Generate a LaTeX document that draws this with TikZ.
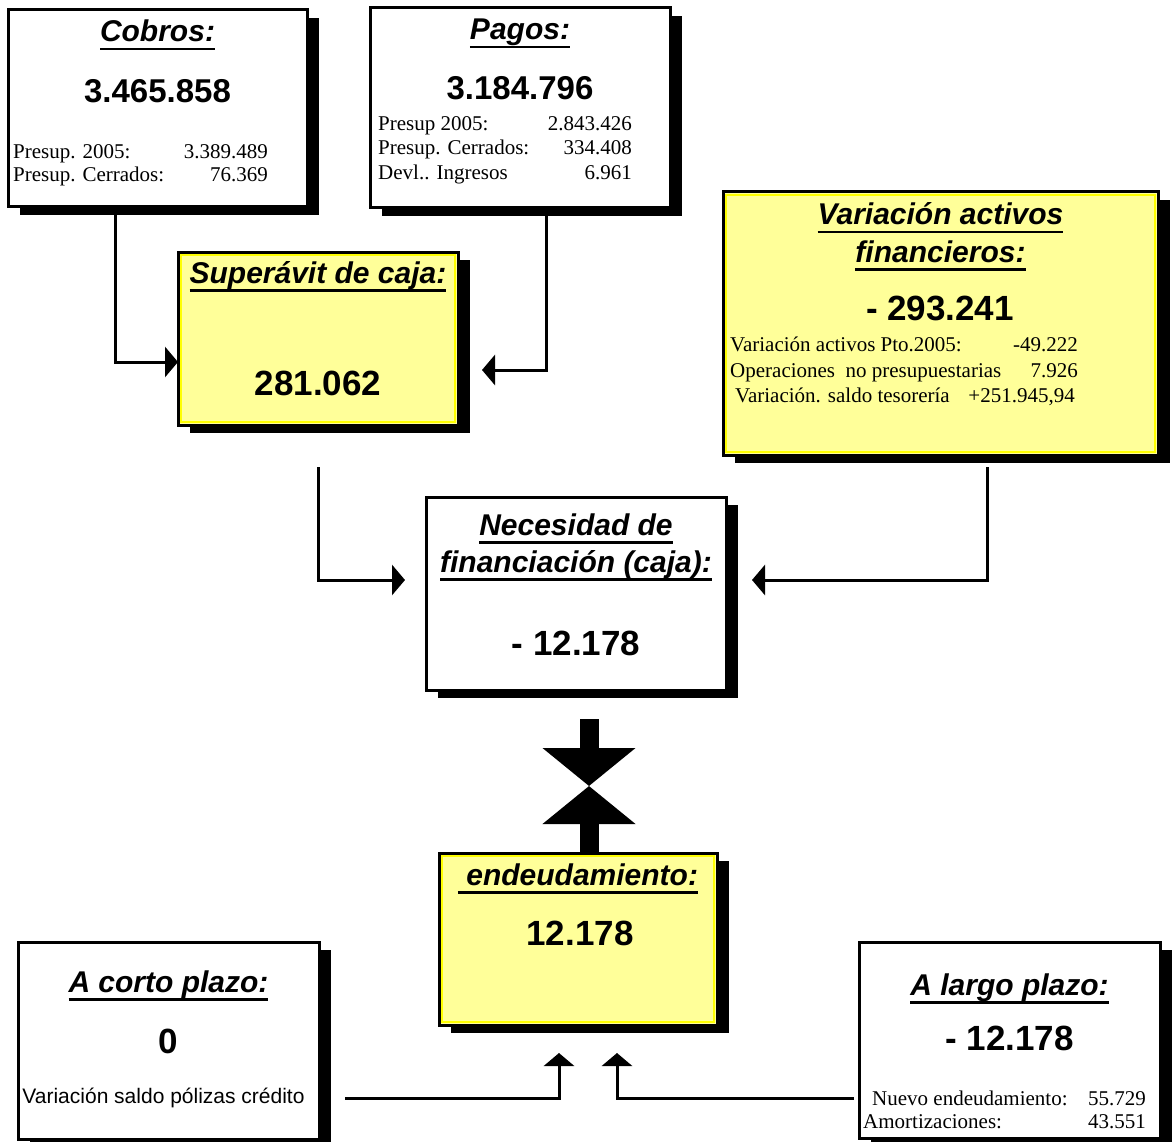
\documentclass[tikz,border=0pt]{standalone}
\usepackage{fontspec}
\setmainfont{Liberation Serif}
\newfontfamily\arial{Liberation Sans}
\usetikzlibrary{arrows.meta,shadows}
\definecolor{yfill}{HTML}{FFFF99}
\definecolor{ybright}{HTML}{FFFF00}
\newcommand\tul[1]{\leavevmode\setbox0=\hbox{#1}\rlap{\rule[-8.5pt]{\wd0}{2.5pt}}\box0}
\newcommand\ttl{\arial\bfseries\itshape\fontsize{30pt}{37pt}\selectfont}
\newcommand\bignum{\arial\bfseries\fontsize{35pt}{35pt}\selectfont}
\newcommand\topnum{\arial\bfseries\fontsize{33pt}{33pt}\selectfont}
\newcommand\sm{\fontsize{21pt}{23pt}\selectfont}
\tikzset{
  box/.style={draw=black, line width=3pt, fill=white, inner sep=0pt, outer sep=0pt,
    drop shadow={shadow xshift=12pt, shadow yshift=-8pt, fill=black, opacity=1}},
  ybox/.style={box, fill=yfill},
  yline/.style={draw=ybright, line width=1.5pt},
  txt/.style={inner sep=0pt, anchor=base},
  txl/.style={inner sep=0pt, anchor=base west},
  txr/.style={inner sep=0pt, anchor=base east},
  conn/.style={line width=3pt, -{Triangle[length=13pt,width=30pt]}},
  bow/.style={line width=19pt, -{Triangle[length=38pt,width=91pt]}}
}
\begin{document}
\begin{tikzpicture}[x=1pt,y=-1pt]
\useasboundingbox[fill=white] (0,0) rectangle (1175,1142);

% boxes
\node[box, minimum width=299pt, minimum height=197pt] (cobros) at (157.5,108.5) {};
\node[box, minimum width=300pt, minimum height=200pt] (pagos) at (520,108) {};
\node[ybox, minimum width=280pt, minimum height=173pt] (sup) at (318,338.5) {};
\node[ybox, minimum width=435pt, minimum height=263pt] (var) at (940.5,323.5) {};
\node[box, minimum width=300pt, minimum height=193pt] (nec) at (576,593.5) {};
\node[ybox, minimum width=278pt, minimum height=172pt] (endeud) at (578,939) {};
\node[box, minimum width=301pt, minimum height=197pt] (corto) at (168.5,1040.5) {};
\node[box, minimum width=301pt, minimum height=196pt] (largo) at (1009.5,1040) {};

\foreach \b in {sup,var,endeud}
  \draw[yline] ([shift={(3,3)}]\b.north west) rectangle ([shift={(-3,-3)}]\b.south east);

% Cobros
\node[txt, font=\ttl] (cobT) at (157.5,42) {\tul{Cobros:}};
\node[txt, font=\topnum] (cobN) at (157.5,103) {3.465.858};
\node[txl, font=\sm] (cobL1) at (13,159) {Presup. 2005:};
\node[txr, font=\sm] (cobV1) at (268,159) {3.389.489};
\node[txl, font=\sm] (cobL2) at (13,182) {Presup. Cerrados:};
\node[txr, font=\sm] (cobV2) at (268,182) {76.369};

% Pagos
\node[txt, font=\ttl] (pagT) at (520,40) {\tul{Pagos:}};
\node[txt, font=\topnum] (pagN) at (520,100) {3.184.796};
\node[txl, font=\sm] (pagL1) at (378,131) {Presup 2005:};
\node[txr, font=\sm] (pagV1) at (632,131) {2.843.426};
\node[txl, font=\sm] (pagL2) at (378,155) {Presup. Cerrados:};
\node[txr, font=\sm] (pagV2) at (632,155) {334.408};
\node[txl, font=\sm] (pagL3) at (378,180) {Devl.. Ingresos};
\node[txr, font=\sm] (pagV3) at (632,180) {6.961};

% Superavit
\node[txt, font=\ttl] (supT) at (318,283) {\tul{Superávit de caja:}};
\node[txt, font=\bignum] (supN) at (318,395) {281.062};

% Variacion
\node[txt, font=\ttl] (varT1) at (940.5,225) {\tul{Variación activos}};
\node[txt, font=\ttl] (varT2) at (940.5,262) {\tul{financieros:}};
\node[txt, font=\bignum] (varN) at (940,320) {- 293.241};
\node[txl, font=\sm] (varL1) at (730,351) {Variación activos Pto.2005:};
\node[txr, font=\sm] (varV1) at (1078,351) {-49.222};
\node[txl, font=\sm] (varL2) at (730,377) {Operaciones\ \ no presupuestarias};
\node[txr, font=\sm] (varV2) at (1078,377) {7.926};
\node[txl, font=\sm] (varL3) at (735,402) {Variación. saldo tesorería};
\node[txr, font=\sm] (varV3) at (1075,402) {+251.945,94};

% Necesidad
\node[txt, font=\ttl] (necT1) at (576,535) {\tul{Necesidad de}};
\node[txt, font=\ttl] (necT2) at (576,572) {\tul{financiación (caja):}};
\node[txt, font=\bignum] (necN) at (576,655) {- 12.178};

% Endeudamiento
\node[txt, font=\ttl] (endT) at (578,885) {\tul{\ endeudamiento:}};
\node[txt, font=\bignum] (endN) at (580,945) {12.178};

% Corto plazo
\node[txt, font=\ttl] (corT) at (168.5,992) {\tul{A corto plazo:}};
\node[txt, font=\bignum] (corN) at (168.5,1053) {0};
\node[txt, font=\arial\fontsize{21pt}{23pt}\selectfont] (corL) at (163.5,1103) {Variación saldo pólizas crédito};

% Largo plazo
\node[txt, font=\ttl] (larT) at (1009.5,995) {\tul{A largo plazo:}};
\node[txt, font=\bignum] (larN) at (1009.5,1050) {- 12.178};
\node[txl, font=\sm] (larL1) at (872,1105) {Nuevo endeudamiento:};
\node[txr, font=\sm] (larV1) at (1146,1105) {55.729};
\node[txl, font=\sm] (larL2) at (863,1128) {Amortizaciones:};
\node[txr, font=\sm] (larV2) at (1146,1128) {43.551};

% connectors
\coordinate (a1) at (115,362);
\draw[conn] (cobros.south -| a1) -- (a1) -- (sup.west |- a1);
\coordinate (b1) at (546,370);
\coordinate (b2) at (482,370);
\draw[conn] (pagos.south -| b1) -- (b1) -- (b2);
\coordinate (c0) at (318,467);
\coordinate (c2) at (405,580);
\draw[conn] (c0) |- (c2);
\coordinate (d0) at (987,467);
\coordinate (d2) at (752,580);
\draw[conn] (d0) |- (d2);

\coordinate (m) at (589,786);
\coordinate (e0) at (589,719);
\draw[bow] (e0) -- (m);
\draw[bow] (endeud.north -| m) -- (m);

\coordinate (f0) at (345,1098);
\coordinate (f1) at (559,1053);
\draw[conn] (f0) -| (f1);
\coordinate (g0) at (854,1098);
\coordinate (g1) at (617,1053);
\draw[conn] (g0) -| (g1);
\end{tikzpicture}
\end{document}
